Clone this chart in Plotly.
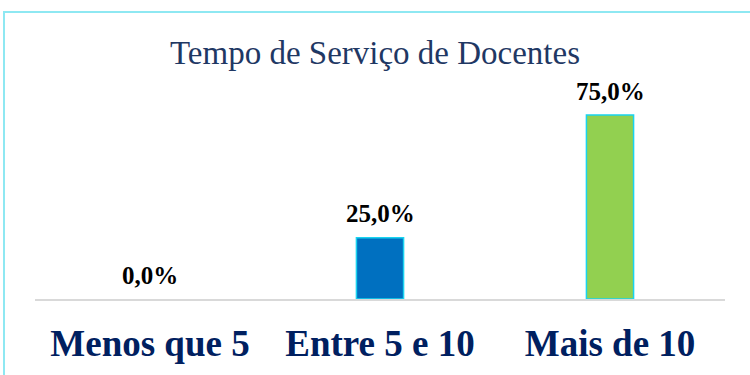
import plotly.graph_objects as go

# Faixas de tempo de serviço e percentuais de docentes
categorias = ["Menos que 5", "Entre 5 e 10", "Mais de 10"]
percentuais = [0.0, 25.0, 75.0]
cores = ["#0070C0", "#0070C0", "#92D050"]
titulo = "Tempo de Serviço de Docentes"

rotulos = [f"{v:.1f}%".replace(".", ",") for v in percentuais]

fig = go.Figure()
fig.add_trace(go.Bar(
    x=categorias,
    y=percentuais,
    width=0.205,
    marker=dict(color=cores,
                line=dict(color="#19D3F0", width=[0 if v == 0 else 1.5 for v in percentuais])),
    hoverinfo="skip",
))

# rótulos de valor acima de cada barra
for c, v, t in zip(categorias, percentuais, rotulos):
    fig.add_annotation(x=c, y=v, text=f"<b>{t}</b>", showarrow=False,
                       yanchor="middle", yshift=24,
                       font=dict(family="Liberation Serif", size=25, color="#000000"))

# moldura do gráfico
fig.add_shape(type="rect", xref="paper", yref="paper",
              x0=(4 - 35) / 690, x1=1.2, y0=-0.6, y1=(299 - 12) / 223,
              line=dict(color="#8EE8F2", width=2), fillcolor="rgba(0,0,0,0)", layer="below")

fig.update_layout(
    width=750, height=375,
    margin=dict(l=35, r=25, t=76, b=76, autoexpand=False),
    paper_bgcolor="white", plot_bgcolor="white",
    showlegend=False,
    title=dict(text=titulo, x=0.5, xanchor="center", y=1 - 52 / 375, yanchor="middle",
               font=dict(family="Liberation Serif", size=33, color="#1F3864")),
    xaxis=dict(range=[-0.5, 2.5], showgrid=False, zeroline=False, automargin=False,
               showline=True, linecolor="#D9D9D9", linewidth=2,
               ticks="", ticklabelstandoff=11,
               tickfont=dict(family="Liberation Serif", size=37, color="#002060", weight="bold")),
    yaxis=dict(range=[0, 75 * (299 - 76) / 184], visible=False, fixedrange=True),
)

fig.write_html("out.html")
